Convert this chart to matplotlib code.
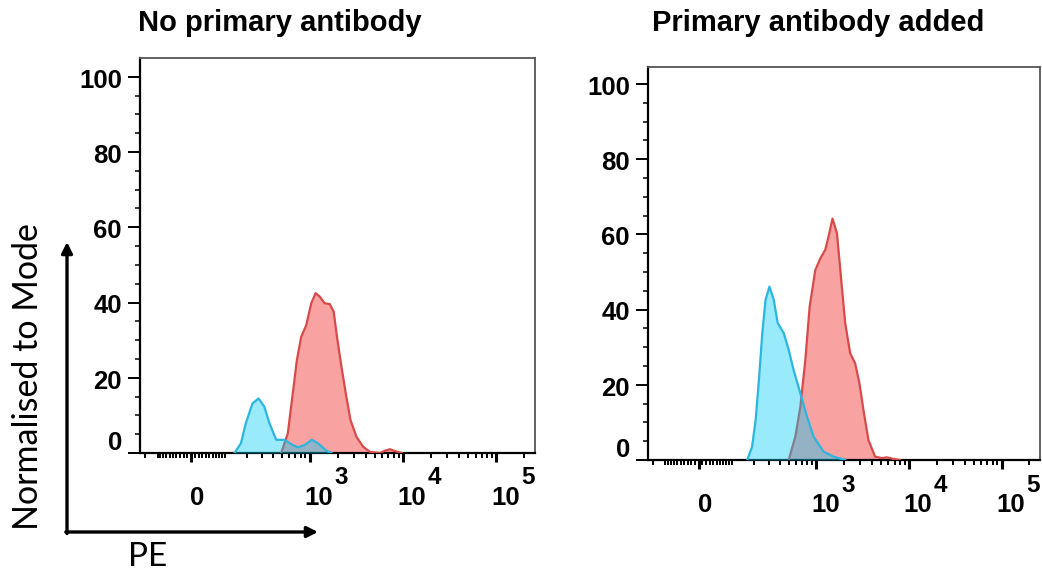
import numpy as np
import matplotlib
matplotlib.use("Agg")
import matplotlib.pyplot as plt
from matplotlib.patches import FancyArrowPatch

# ---- histogram data: PE intensity vs. % of mode ----
# No primary antibody
noprim_blue_pe = [139, 169, 194, 234, 275, 320, 365, 434, 535, 659, 746, 883, 1058, 1229, 1514, 1715]
noprim_blue_mode = [0, 2.6, 7.9, 13.2, 14.5, 12.3, 7.9, 3.5, 3.5, 2.1, 1.5, 2.1, 3.5, 2.6, 0.6, 0]
noprim_red_pe = [492, 581, 659, 729, 813, 921, 1043, 1161, 1282, 1452, 1644, 1815, 1969, 2196,
                 2444, 2745, 3186, 3748, 4428, 5681, 6415, 7268, 8230, 9709]
noprim_red_mode = [0, 5.2, 15.9, 24.7, 30.9, 34.0, 39.8, 42.5, 41.6, 39.8, 39.6, 37.6, 30.9, 23.0,
                   15.9, 8.8, 4.3, 1.7, 0.3, 0, 0.6, 1.0, 0.5, 0]

# Primary antibody added
prim_blue_pe = [164, 189, 209, 229, 251, 274, 304, 340, 377, 441, 499, 566, 671, 793, 935, 1199, 1537, 2055]
prim_blue_mode = [0, 3.5, 10.6, 21.3, 33.7, 42.6, 46.1, 42.6, 36.4, 33.7, 29.3, 23.9, 17.7, 11.5,
                  6.2, 2.2, 0.9, 0]
prim_red_pe = [499, 591, 671, 760, 847, 975, 1105, 1251, 1358, 1499, 1673, 1847, 2055, 2325, 2632,
               2928, 3235, 3661, 4320, 5098, 5778, 6793, 8024]
prim_red_mode = [0, 6.2, 14.2, 26.6, 40.8, 50.5, 53.6, 55.9, 59.4, 64.2, 60.3, 48.8, 36.4, 28.4,
                 25.7, 20.4, 13.3, 5.3, 0.9, 0.5, 0.7, 0.3, 0]

titles = ["No primary antibody", "Primary antibody added"]
y_ticks = [0, 20, 40, 60, 80, 100]
decade_ticks = [1e3, 1e4, 1e5]
decade_exps = ["3", "4", "5"]

BLUE_LINE = "#2bb5df"
BLUE_FILL = (0.0, 0.80, 0.96)
RED_LINE = "#d84a4a"
RED_FILL = "#f8a2a2"
LIN_W = 108.0  # linear width of the asinh (biexponential-like) PE axis

W, H = 1042, 573
fig = plt.figure(figsize=(W / 100, H / 100), dpi=100)

def fx(px):
    return px / W

def fy(py):
    return 1 - py / H

ax_boxes = [
    (fx(140), fy(453), fx(535) - fx(140), fy(58) - fy(453)),
    (fx(648), fy(460), fx(1040) - fx(648), fy(67) - fy(460)),
]
ytops = [105.0, 104.5]
title_x = [280, 818]

panels = [
    (noprim_blue_pe, noprim_blue_mode, noprim_red_pe, noprim_red_mode),
    (prim_blue_pe, prim_blue_mode, prim_red_pe, prim_red_mode),
]

minor_x = ([-150, -100] + [-v for v in range(10, 100, 10)] + list(range(10, 100, 10)) + [100]
           + list(range(200, 1000, 100)) + list(range(2000, 10000, 1000))
           + list(range(20000, 100000, 10000)) + [200000])

tick_font = dict(family="Liberation Sans", weight="bold", size=18.5)

for i, (box, ytop, (bx, by, rx, ry)) in enumerate(zip(ax_boxes, ytops, panels)):
    ax = fig.add_axes(box)
    ax.set_xscale("asinh", linear_width=LIN_W)
    ax.set_xlim(-175, 2.6e5)
    ax.set_ylim(0, ytop)

    ax.fill_between(rx, ry, 0, color=RED_FILL, lw=0, zorder=2)
    ax.plot(rx, ry, color=RED_LINE, lw=1.6, zorder=3)
    ax.fill_between(bx, by, 0, color=BLUE_FILL, alpha=0.40, lw=0, zorder=4)
    ax.plot(bx, by, color=BLUE_LINE, lw=1.6, zorder=5)

    # spines
    for side in ("left", "bottom"):
        ax.spines[side].set_color("black")
        ax.spines[side].set_linewidth(1.6)
    for side in ("top", "right"):
        ax.spines[side].set_color("#555555")
        ax.spines[side].set_linewidth(1.3)

    # y ticks
    ax.set_yticks(y_ticks)
    ax.set_yticks(np.arange(0, 101, 5), minor=True)
    ax.tick_params(axis="y", which="major", direction="out", length=8.5, width=1.4,
                   labelleft=False)
    ax.tick_params(axis="y", which="minor", direction="out", length=3.8, width=1.1)
    for v in y_ticks:
        dy = 7.5 if v == 0 else -2.7
        ax.annotate(str(v), xy=(0, v), xycoords=("axes fraction", "data"),
                    xytext=(-13, dy), textcoords="offset points",
                    ha="right", va="center", **tick_font)

    # x ticks
    ax.set_xticks([0] + decade_ticks)
    ax.set_xticks(minor_x, minor=True)
    ax.tick_params(axis="x", which="major", direction="out", length=6.5, width=2.2,
                   labelbottom=False)
    ax.tick_params(axis="x", which="minor", direction="out", length=3.8, width=1.4)
    ax.annotate("0", xy=(0, 0), xycoords=("data", "axes fraction"),
                xytext=(4.3, -32.4), textcoords="offset points",
                ha="center", va="center", **tick_font)
    for t, e in zip(decade_ticks, decade_exps):
        ax.annotate("10", xy=(t, 0), xycoords=("data", "axes fraction"),
                    xytext=(6.5, -32.4), textcoords="offset points",
                    ha="center", va="center", annotation_clip=False, **tick_font)
        ax.annotate(e, xy=(t, 0), xycoords=("data", "axes fraction"),
                    xytext=(22.8, -18.0), textcoords="offset points",
                    ha="center", va="center", annotation_clip=False,
                    family="Liberation Sans", weight="bold", size=17.5)

    fig.text(fx(title_x[i]), fy(23), titles[i], ha="center", va="center",
             family="Liberation Sans", weight="bold", size=21)

# axis arrows and labels
fig.add_artist(FancyArrowPatch((fx(67), fy(533.5)), (fx(67), fy(242)),
                               transform=fig.transFigure, arrowstyle="-|>",
                               mutation_scale=16, lw=2.4, color="black",
                               shrinkA=0, shrinkB=0))
fig.add_artist(FancyArrowPatch((fx(65.8), fy(532)), (fx(318), fy(532)),
                               transform=fig.transFigure, arrowstyle="-|>",
                               mutation_scale=16, lw=2.4, color="black",
                               shrinkA=0, shrinkB=0))
fig.text(fx(28), fy(377), "Normalised to Mode", rotation=90, ha="center", va="center",
         family="Lato", size=24.5)
fig.text(fx(148), fy(557), "PE", ha="center", va="center", family="Lato", size=24)

fig.savefig("out.png", dpi=100)
